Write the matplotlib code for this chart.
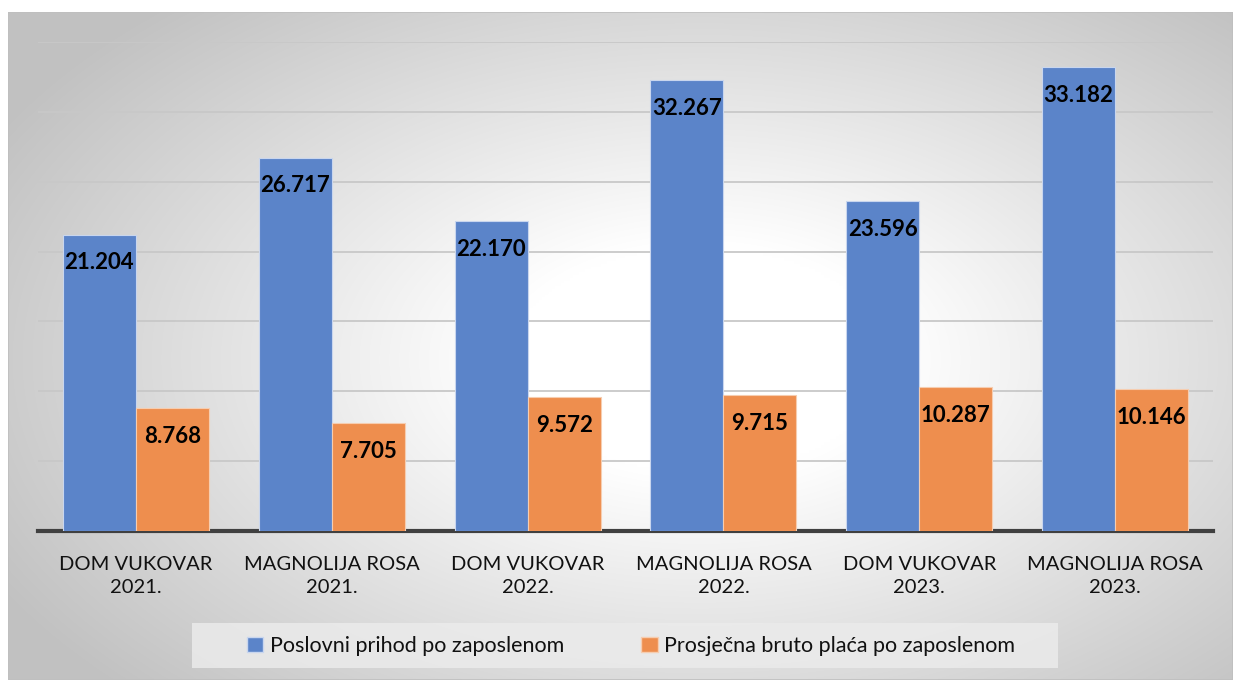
import numpy as np
import matplotlib.pyplot as plt
from matplotlib.patches import Rectangle, Patch

kategorije = [
    "DOM VUKOVAR\n2021.",
    "MAGNOLIJA ROSA\n2021.",
    "DOM VUKOVAR\n2022.",
    "MAGNOLIJA ROSA\n2022.",
    "DOM VUKOVAR\n2023.",
    "MAGNOLIJA ROSA\n2023.",
]
prihod = [21204, 26717, 22170, 32267, 23596, 33182]
placa = [8768, 7705, 9572, 9715, 10287, 10146]
nazivi = ["Poslovni prihod po zaposlenom", "Prosječna bruto plaća po zaposlenom"]

plava = "#5B84C9"
narancasta = "#EE8E4E"

plt.rcParams["font.family"] = ["Lato", "DejaVu Sans"]

W, H = 1233, 680
fig = plt.figure(figsize=(W / 100, H / 100), dpi=100)
fig.patch.set_facecolor("white")

# pozadina s radijalnim prijelazom (bijelo u sredini, sivo prema rubovima)
bg = fig.add_axes([8 / W, 0, 1 - 8 / W, 1 - 12 / H])
bg.set_axis_off()
xx, yy = np.meshgrid(np.linspace(8, W, 400), np.linspace(12, H, 240))
r = np.sqrt(((xx - 700) / 640) ** 2 + ((yy - 360) / 380) ** 2)
t = np.clip((r - 0.3) / 0.95, 0, 1)
siva = 1 - 0.24 * t
bg.imshow(np.dstack([siva, siva, siva]), extent=[0, 1, 0, 1], aspect="auto",
          origin="upper", interpolation="bilinear")
bg.add_patch(Rectangle((0, 0), 1, 1, transform=bg.transAxes, fill=False,
                       edgecolor="#bfbfbf", lw=1.2))

ax = fig.add_axes([38 / W, 1 - 531 / H, (1213 - 38) / W, (531 - 42) / H])
ax.set_facecolor("none")

x = np.arange(len(kategorije))
sirina = 0.373
b1 = ax.bar(x - sirina / 2, prihod, sirina, color=plava, edgecolor="#c9d6ee",
            linewidth=0.8, zorder=3)
b2 = ax.bar(x + sirina / 2, placa, sirina, color=narancasta, edgecolor="#f6cdb0",
            linewidth=0.8, zorder=3)

for bars in (b1, b2):
    for rect in bars:
        v = rect.get_height()
        ax.annotate(f"{v:,}".replace(",", "."),
                    (rect.get_x() + rect.get_width() / 2, v),
                    xytext=(0, -28), textcoords="offset pixels",
                    ha="center", va="center", fontsize=16, fontweight="bold",
                    color="black", zorder=4)

ax.set_xlim(-0.5, 5.5)
ax.set_ylim(0, 35000)
ax.set_yticks(np.arange(5000, 35001, 5000))
ax.yaxis.grid(True, color="#c8c8c8", linewidth=1.3, zorder=0)
ax.set_axisbelow(True)
ax.tick_params(axis="y", left=False, labelleft=False)
ax.tick_params(axis="x", length=0, pad=18)
ax.set_xticks(x)
ax.set_xticklabels(kategorije, fontsize=14.5, color="#111111", linespacing=1.45)
for s in ["top", "right", "left"]:
    ax.spines[s].set_visible(False)
ax.spines["bottom"].set_color("#404040")
ax.spines["bottom"].set_linewidth(3)

# legenda
fig.patches.append(Rectangle((192 / W, 1 - 668 / H), (1058 - 192) / W, 45 / H,
                             transform=fig.transFigure, facecolor="#ebebeb",
                             edgecolor="none", alpha=0.85, zorder=1))
ruke = [Patch(facecolor=plava, edgecolor="#c9d6ee"),
        Patch(facecolor=narancasta, edgecolor="#f6cdb0")]
fig.legend(ruke, nazivi, loc="center", bbox_to_anchor=(631 / W, 1 - 646 / H),
           ncol=2, frameon=False, fontsize=15.5, handlelength=0.75, handleheight=0.75,
           handletextpad=0.3, columnspacing=3.6, labelcolor="#111111")

fig.savefig("out.png", dpi=100)
